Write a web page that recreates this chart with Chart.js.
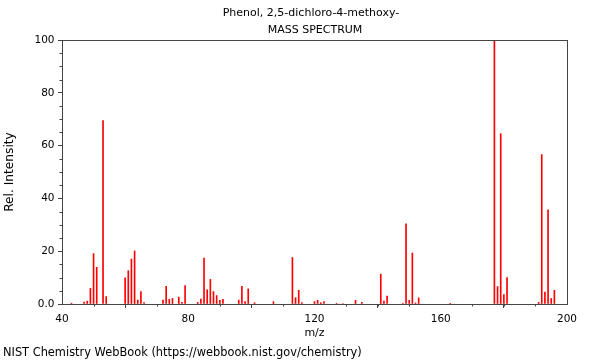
<!DOCTYPE html>
<html>
<head>
<meta charset="utf-8">
<script src="https://cdn.jsdelivr.net/npm/chart.js@4/dist/chart.umd.min.js"></script>
<style>
  html, body { margin: 0; padding: 0; background: #fff; }
  #wrap { width: 600px; height: 360px; }
</style>
</head>
<body>
<div id="wrap"><canvas id="spectrum"></canvas></div>
<script>
// Peak data
const mz = [43, 47, 48, 49, 50, 51, 53, 54,
    60, 61, 62, 63, 64, 65, 66,
    72, 73, 74, 75, 77, 78, 79,
    83, 84, 85, 86, 87, 88, 89, 90, 91,
    96, 97, 98, 99, 101, 107,
    113, 114, 115, 116, 120, 121, 122, 123, 127, 129, 133, 135,
    141, 142, 143, 148, 149, 150, 151, 152, 153, 163,
    177, 178, 179, 180, 181,
    191, 192, 193, 194, 195, 196];
const intensity = [0.3, 0.75, 1.1, 5.9, 19.1, 13.9, 69.5, 2.8,
    9.9, 12.6, 17.0, 20.1, 1.5, 4.7, 0.5,
    1.5, 6.7, 1.8, 2.1, 2.6, 0.6, 7.0,
    0.6, 1.9, 17.4, 5.4, 9.3, 4.7, 3.2, 1.4, 1.8,
    1.5, 6.7, 0.9, 5.7, 0.5, 0.9,
    17.6, 2.4, 5.2, 0.5, 0.9, 1.4, 0.5, 0.9, 0.25, 0.2, 1.4, 0.6,
    11.3, 1.1, 3.0, 0.25, 30.4, 1.4, 19.3, 0.4, 2.3, 0.1,
    100, 6.6, 64.5, 3.6, 10.0,
    0.6, 56.6, 4.5, 35.7, 2.1, 5.2];
const xTicks = [40, 80, 120, 160, 200];
const yTicks = [0, 20, 40, 60, 80, 100];

const titleLines = ['Phenol, 2,5-dichloro-4-methoxy-', 'MASS SPECTRUM'];
const footerText = 'NIST Chemistry WebBook (https://webbook.nist.gov/chemistry)';

const font = 'DejaVu Sans';
const axisColor = '#444';

// frame, minor ticks, title and footer
const decor = {
    id: 'decor',
    afterDraw(chart) {
        const ctx = chart.ctx;
        const a = chart.chartArea;
        const xs = chart.scales.x, ys = chart.scales.y;
        ctx.save();
        ctx.strokeStyle = axisColor;
        ctx.lineWidth = 1;
        ctx.strokeRect(Math.round(a.left) + 0.5, Math.round(a.top) + 0.5,
            Math.round(a.right - a.left), Math.round(a.bottom - a.top));
        ctx.beginPath();
        for (let v = 40; v <= 200; v += 10) {
            if (xTicks.includes(v)) continue;
            const px = Math.round(xs.getPixelForValue(v)) + 0.5;
            ctx.moveTo(px, a.bottom);
            ctx.lineTo(px, a.bottom + 2.5);
        }
        for (let v = 0; v <= 100; v += 5) {
            if (yTicks.includes(v)) continue;
            const py = Math.round(ys.getPixelForValue(v)) + 0.5;
            ctx.moveTo(a.left, py);
            ctx.lineTo(a.left - 2.5, py);
        }
        ctx.stroke();

        ctx.fillStyle = '#000';
        ctx.font = '11px "' + font + '"';
        ctx.textAlign = 'center';
        ctx.textBaseline = 'middle';
        ctx.fillText(titleLines[0], 311, 13.5);
        ctx.fillText(titleLines[1], 315, 30);
        ctx.textAlign = 'left';
        ctx.font = '11.4px "' + font + '"';
        ctx.fillText(footerText, 3, 353);
        ctx.restore();
    }
};

new Chart(document.getElementById('spectrum'), {
    type: 'bar',
    data: {
        datasets: [{
            data: mz.map((m, i) => ({ x: m, y: intensity[i] })),
            backgroundColor: '#ff0000',
            barThickness: 1,
            grouped: false
        }]
    },
    options: {
        responsive: true,
        maintainAspectRatio: false,
        animation: false,
        layout: {
            padding: { left: 0, top: 40, right: 33, bottom: 20 }
        },
        plugins: {
            legend: { display: false },
            tooltip: { enabled: false }
        },
        scales: {
            x: {
                type: 'linear',
                min: 40,
                max: 200,
                offset: false,
                afterFit(scale) { scale.height = 36; },
                ticks: {
                    stepSize: 40,
                    maxRotation: 0,
                    autoSkip: false,
                    color: '#000',
                    padding: 4.5,
                    font: { family: font, size: 10.5 }
                },
                grid: {
                    drawOnChartArea: false,
                    tickLength: 4,
                    tickColor: axisColor
                },
                border: { color: axisColor },
                title: {
                    display: true,
                    text: 'm/z',
                    color: '#000',
                    padding: { top: 0, bottom: 0 },
                    font: { family: font, size: 11 }
                }
            },
            y: {
                min: 0,
                max: 100,
                afterFit(scale) { scale.width = 62; },
                ticks: {
                    stepSize: 20,
                    color: '#000',
                    padding: 3.5,
                    font: { family: font, size: 10.5 },
                    callback: v => v === 0 ? '0.0' : v
                },
                grid: {
                    drawOnChartArea: false,
                    tickLength: 4,
                    tickColor: axisColor
                },
                border: { color: axisColor },
                title: {
                    display: true,
                    text: 'Rel. Intensity',
                    color: '#000',
                    padding: { top: 3, bottom: 0 },
                    font: { family: font, size: 12.2 }
                }
            }
        }
    },
    plugins: [decor]
});
</script>
</body>
</html>
